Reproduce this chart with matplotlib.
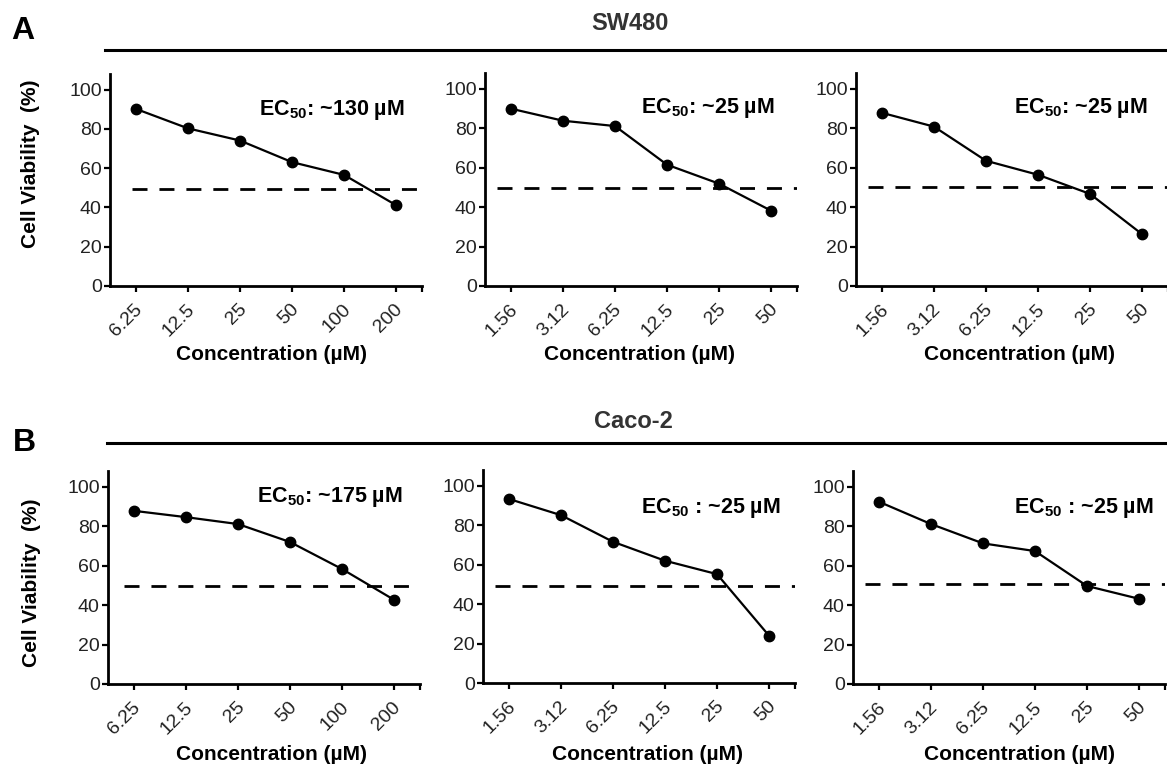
import matplotlib
matplotlib.use("Agg")
import matplotlib.pyplot as plt
from matplotlib.lines import Line2D
from matplotlib.transforms import ScaledTranslation

plt.rcParams['font.family'] = ['Liberation Sans', 'DejaVu Sans']
plt.rcParams['mathtext.fontset'] = 'custom'
plt.rcParams['mathtext.rm'] = 'Liberation Sans'
plt.rcParams['mathtext.bf'] = 'Liberation Sans:bold'

# ---------------- data ----------------
conc_high = ['6.25', '12.5', '25', '50', '100', '200']
conc_low = ['1.56', '3.12', '6.25', '12.5', '25', '50']

sw480_1 = [90.2, 80.3, 74.1, 63.1, 56.6, 41.2]
sw480_2 = [89.9, 83.8, 81.1, 61.5, 51.9, 38.2]
sw480_3 = [87.8, 80.8, 63.5, 56.4, 46.7, 26.3]
caco2_1 = [87.8, 84.6, 81.1, 72.0, 58.3, 42.7]
caco2_2 = [93.3, 85.1, 71.6, 62.0, 55.2, 24.0]
caco2_3 = [92.4, 81.1, 71.3, 67.4, 49.7, 43.2]

half_lines = [49.4, 49.6, 50.3, 49.8, 49.0, 50.5]

ec50_labels = [r'EC$_{\mathbf{50}}$: ~130 µM', r'EC$_{\mathbf{50}}$: ~25 µM', r'EC$_{\mathbf{50}}$: ~25 µM',
               r'EC$_{\mathbf{50}}$: ~175 µM', r'EC$_{\mathbf{50}}$ : ~25 µM', r'EC$_{\mathbf{50}}$ : ~25 µM']

panels = [
    (conc_high, sw480_1), (conc_low, sw480_2), (conc_low, sw480_3),
    (conc_high, caco2_1), (conc_low, caco2_2), (conc_low, caco2_3),
]

# ---------------- layout (pixels) ----------------
W, H = 1167, 767
fig = plt.figure(figsize=(W / 100, H / 100), dpi=100)

def fx(x):
    return x / W

def fy(y):
    return 1 - y / H

# (left, bottom_y_of_zero, top_y) in pixels
rects = [
    (110, 286, 74), (485, 286, 73), (856, 286, 73),
    (108, 684, 471), (483, 683, 470), (853, 684, 471),
]
ax_w = 312
ec50_pos = [(5.17, 89.7), (5.08, 90.4), (5.12, 90.3), (5.17, 95.0), (5.23, 88.8), (5.29, 89.3)]
xlabel_pos = [(272, 355), (640, 354), (1020, 355), (271, 755), (647, 755), (1020, 755)]
dash_start = [0.07, 0.04, 0.04, 0.05, 0.04, 0.04]

tick_color = '#222222'

for i, ((cats, vals), (l, b, t)) in enumerate(zip(panels, rects)):
    ax = fig.add_axes([fx(l), fy(b), fx(ax_w), (b - t) / H])
    x = list(range(len(cats)))
    ax.plot(x, vals, color='black', lw=1.6, marker='o', ms=7.5, zorder=3, clip_on=False)
    ax.axhline(half_lines[i], xmin=dash_start[i], xmax=1.0, color='black', lw=2.0,
               linestyle=(0, (5.4, 4.3)), zorder=2)
    ax.set_xlim(-0.5, 5.5)
    ax.set_ylim(0, 108)
    ax.set_yticks([0, 20, 40, 60, 80, 100])
    ax.set_xticks(x)
    ax.set_xticks([5.5], minor=True)
    ax.set_xticklabels(cats)
    for s in ['top', 'right']:
        ax.spines[s].set_visible(False)
    for s in ['left', 'bottom']:
        ax.spines[s].set_linewidth(2.0)
    ax.tick_params(axis='y', length=4, width=1.6, pad=2, labelsize=14, labelcolor=tick_color)
    ax.tick_params(axis='x', which='both', length=4, width=1.6, pad=11, labelsize=14,
                   labelcolor=tick_color)
    shift = ScaledTranslation(3 / 72, 0, fig.dpi_scale_trans)
    for lab in ax.get_xticklabels():
        lab.set_rotation(45)
        lab.set_ha('right')
        lab.set_va('center')
        lab.set_rotation_mode('anchor')
        lab.set_transform(lab.get_transform() + shift)
    ex, ey = ec50_pos[i]
    ax.text(ex, ey, ec50_labels[i], ha='right', va='center', fontsize=15.5,
            fontweight='bold', color='black')
    lx, ly = xlabel_pos[i]
    fig.text(fx(lx), fy(ly), 'Concentration (µM)', ha='center', va='center',
             fontsize=15, fontweight='bold', color='black')

# y labels
fig.text(fx(31), fy(164), 'Cell Viability  (%)', rotation=90, ha='center', va='center',
         fontsize=15, fontweight='bold')
fig.text(fx(32), fy(583), 'Cell Viability  (%)', rotation=90, ha='center', va='center',
         fontsize=15, fontweight='bold')

# headers
fig.add_artist(Line2D([fx(105), fx(1167)], [fy(50), fy(50)], color='black', lw=2.2))
fig.add_artist(Line2D([fx(107), fx(1167)], [fy(443), fy(443)], color='black', lw=2.2))
fig.text(fx(630), fy(23), 'SW480', ha='center', va='center', fontsize=17,
         fontweight='bold', color='#333333')
fig.text(fx(633), fy(421), 'Caco-2', ha='center', va='center', fontsize=17,
         fontweight='bold', color='#333333')
fig.text(fx(23), fy(31), 'A', ha='center', va='center', fontsize=23, fontweight='bold')
fig.text(fx(24), fy(443), 'B', ha='center', va='center', fontsize=23, fontweight='bold')

fig.savefig('out.png', dpi=100, facecolor='white')
